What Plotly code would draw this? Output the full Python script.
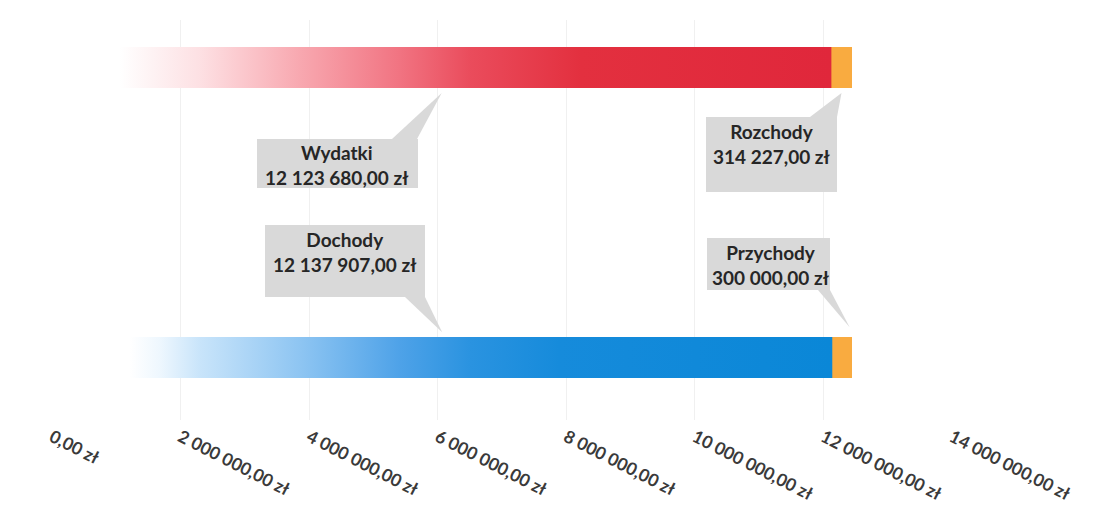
import plotly.graph_objects as go

# ---------------- data ----------------
categories = ["Dochody", "Wydatki"]          # bottom, top
main_labels = ["Dochody", "Wydatki"]
main_values = [12137907.00, 12123680.00]
extra_labels = ["Przychody", "Rozchody"]
extra_values = [300000.00, 314227.00]
main_value_text = ["12 137 907,00 zł", "12 123 680,00 zł"]
extra_value_text = ["300 000,00 zł", "314 227,00 zł"]
tick_values = [0, 2000000, 4000000, 6000000, 8000000, 10000000, 12000000, 14000000]
tick_labels = ["0,00 zł", "2 000 000,00 zł", "4 000 000,00 zł", "6 000 000,00 zł",
               "8 000 000,00 zł", "10 000 000,00 zł", "12 000 000,00 zł", "14 000 000,00 zł"]

# ---------------- layout constants ----------------
W, H = 1106, 508
ML, MR, MT, MB = 52, 154, 20, 88
XMIN, XMAX = 0, 14000000
YMIN, YMAX = -0.2155, 1.164
BAR_W = 0.141
ypos = [0, 1]

PLOT_W = W - ML - MR
PLOT_H = H - MT - MB


def px2x(px):
    return XMIN + (px - ML) / PLOT_W * (XMAX - XMIN)


def px2y(py):
    return YMAX - (py - MT) / PLOT_H * (YMAX - YMIN)


red_scale = [
    [0.0, "#ffffff"], [0.087, "#ffffff"], [0.126, "#fef3f4"], [0.19, "#fde0e3"],
    [0.318, "#f8a8b0"], [0.447, "#f17381"], [0.536, "#ea4c5c"], [0.678, "#e3303f"],
    [1.0, "#e0273b"],
]
blue_scale = [
    [0.0, "#ffffff"], [0.10, "#ffffff"], [0.138, "#eef7fe"], [0.19, "#c8e4fa"],
    [0.318, "#8ec5f2"], [0.446, "#4ea2e8"], [0.536, "#2a93e0"], [0.65, "#168bdb"],
    [1.0, "#0a87d7"],
]
scales = [blue_scale, red_scale]
orange = "#f9ab40"

fig = go.Figure()

# main gradient segments (filled polygons drawn in data coordinates)
for i in range(2):
    v = main_values[i]
    c = ypos[i]
    fig.add_trace(go.Scatter(
        x=[0, v, v, 0, 0],
        y=[c - BAR_W / 2, c - BAR_W / 2, c + BAR_W / 2, c + BAR_W / 2, c - BAR_W / 2],
        fill="toself", mode="lines", line=dict(width=0, color="rgba(0,0,0,0)"),
        fillgradient=dict(type="horizontal", colorscale=scales[i], start=0, stop=v),
        name=main_labels[i], showlegend=False, hoverinfo="skip",
    ))

# orange stacked segments
fig.add_trace(go.Bar(
    x=extra_values, y=ypos, base=main_values, orientation="h",
    width=BAR_W, marker=dict(color=orange, line=dict(width=0)),
    showlegend=False, name="extra",
))

# ---------------- callouts ----------------
box_fill = "#d9d9d9"
text_col = "#262626"
font = dict(family="Lato, 'Open Sans', sans-serif", size=19, color=text_col, weight="bold")

gap = 0.017
# label, value, box l, r, t, b (px), text centre x, y (px), clip width, pointer base x1, x2, y, tip x, tip y (data)
callouts = [
    (main_labels[1], main_value_text[1], 257, 418, 139, 188, 337, 165, None,
     392, 417, 139, main_values[1] / 2, ypos[1] - BAR_W / 2 - gap),
    (main_labels[0], main_value_text[0], 265, 425, 225, 297, 345, 252, None,
     405, 425, 297, main_values[0] / 2, ypos[0] + BAR_W / 2 + gap),
    (extra_labels[1], extra_value_text[1], 706, 837, 117, 192, 771, 144, None,
     810, 837, 117, main_values[1] + extra_values[1] / 2, ypos[1] - BAR_W / 2 - gap),
    (extra_labels[0], extra_value_text[0], 707, 830, 238, 290, 770, 265, 121,
     818, 830, 290, main_values[0] + extra_values[0] * 0.9, ypos[0] + BAR_W / 2 + gap * 2),
]

for (lab, val, l, r, t, b, tcx, tcy, clipw, bx1, bx2, by, tx, ty) in callouts:
    fig.add_shape(
        type="rect", xref="x", yref="y",
        x0=px2x(l), x1=px2x(r), y0=px2y(b), y1=px2y(t),
        fillcolor=box_fill, line=dict(width=0), layer="above",
    )
    fig.add_shape(
        type="path", xref="x", yref="y",
        path=f"M {px2x(bx1)},{px2y(by)} L {px2x(bx2)},{px2y(by)} L {tx},{ty} Z",
        fillcolor=box_fill, line=dict(width=0), layer="above",
    )
    ann = dict(
        x=px2x(tcx), y=px2y(tcy), xref="x", yref="y",
        xanchor="center", yanchor="middle",
        text=f"{lab}<br>{val}",
        showarrow=False, borderpad=0, borderwidth=0,
        align="center", font=font,
    )
    if clipw:
        ann["width"] = clipw
    fig.add_annotation(**ann)

fig.update_layout(
    width=W, height=H,
    margin=dict(l=ML, r=MR, t=MT, b=MB, autoexpand=False),
    paper_bgcolor="white", plot_bgcolor="white",
    bargap=0, barmode="overlay",
    xaxis=dict(
        range=[XMIN, XMAX], tickmode="array", tickvals=tick_values, ticktext=tick_labels,
        tickangle=27, showgrid=True, gridcolor="#f0f0f0", gridwidth=1,
        zeroline=False, showline=False, ticks="", ticklabelstandoff=3, automargin=False,
        tickfont=dict(family="Lato, 'Open Sans', sans-serif", size=17.5, color="#3a3a3a",
                      weight="bold"),
    ),
    yaxis=dict(
        range=[YMIN, YMAX], showticklabels=False, showgrid=False, zeroline=False,
        showline=False, ticks="", fixedrange=True, automargin=False,
    ),
    showlegend=False,
)

fig.write_html("out.html")
